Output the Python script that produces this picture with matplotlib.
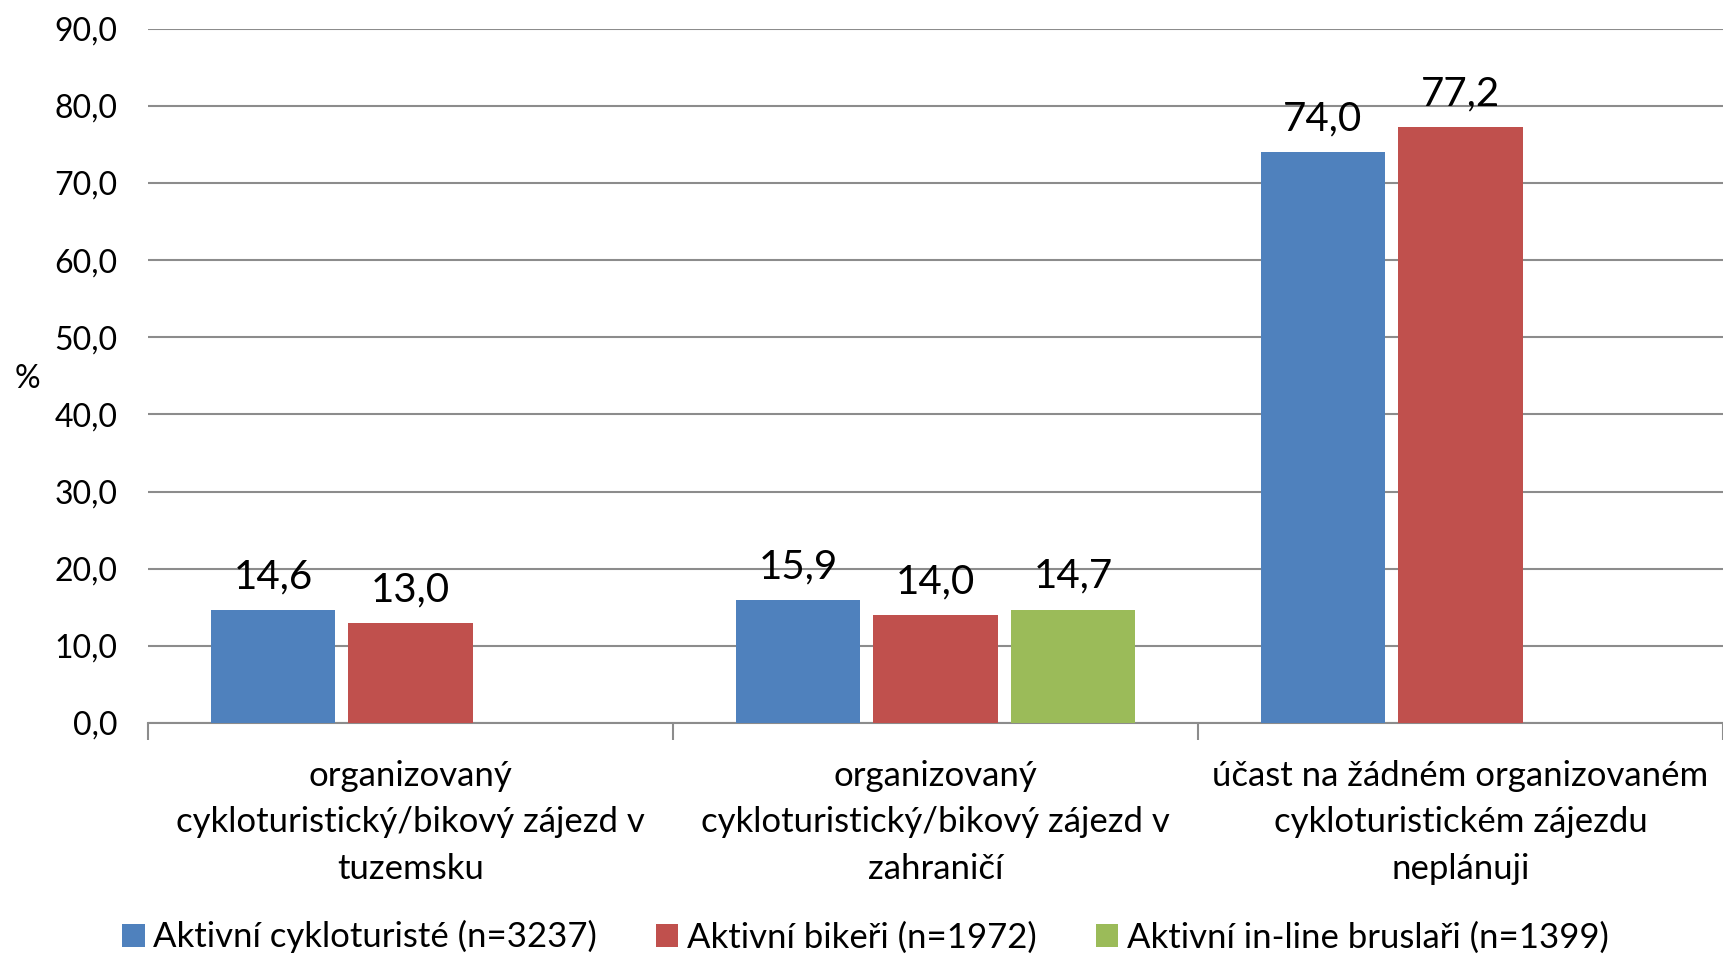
import matplotlib.pyplot as plt
from matplotlib.patches import Patch
import numpy as np

plt.rcParams['font.family'] = ['Lato', 'DejaVu Sans']

categories = [
    'organizovaný\ncykloturistický/bikový zájezd v\ntuzemsku',
    'organizovaný\ncykloturistický/bikový zájezd v\nzahraničí',
    'účast na žádném organizovaném\ncykloturistickém zájezdu\nneplánuji',
]
series_names = ['Aktivní cykloturisté (n=3237)', 'Aktivní bikeři (n=1972)',
                'Aktivní in-line bruslaři (n=1399)']
cyklo = [14.6, 15.9, 74.0]
bikeri = [13.0, 14.0, 77.2]
bruslari = [None, 14.7, None]
colors = ['#4F81BD', '#C0504D', '#9BBB59']
yticks = [0, 10, 20, 30, 40, 50, 60, 70, 80, 90]

fig = plt.figure(figsize=(17.24, 9.57), dpi=100)
ax = fig.add_axes([0.0858, 0.2445, 0.9136, 0.7255])

x = np.arange(len(categories))
width = 0.237
step = 0.262
for i, (vals, col) in enumerate(zip([cyklo, bikeri, bruslari], colors)):
    for xi, v in zip(x, vals):
        if v is None:
            continue
        pos = xi + (i - 1) * step
        ax.bar(pos, v, width=width, color=col, zorder=3)
        ax.text(pos, v + 1.9, f'{v:.1f}'.replace('.', ','), ha='center', va='bottom',
                fontsize=29, color='black')

ax.set_xlim(-0.5, 2.5)
ax.set_ylim(0, 90)
ax.set_yticks(yticks)
ax.set_yticklabels([f'{t:.1f}'.replace('.', ',') for t in yticks], fontsize=23)
ax.tick_params(axis='y', length=0, pad=22)
ax.yaxis.grid(True, color='#8c8c8c', linewidth=1.5, zorder=0)

ax.set_xticks([-0.5, 0.5, 1.5, 2.5])
ax.set_xticklabels([])
ax.tick_params(axis='x', which='major', length=12, width=1.5, color='#8c8c8c')
ax.set_xticks(x, minor=True)
ax.set_xticklabels(categories, minor=True, fontsize=25, linespacing=1.56)
ax.tick_params(axis='x', which='minor', length=0, pad=26.5)

for s in ['left', 'right', 'top']:
    ax.spines[s].set_visible(False)
ax.spines['bottom'].set_color('#8c8c8c')
ax.spines['bottom'].set_linewidth(1.5)

fig.text(0.0157, 0.604, '%', fontsize=23, ha='center', va='center')

handles = [Patch(facecolor=c) for c in colors]
fig.legend(handles, series_names, loc='center', bbox_to_anchor=(0.502, 0.021),
           ncol=3, frameon=False, fontsize=25, handlelength=0.64, handleheight=0.64,
           handletextpad=0.25, columnspacing=1.7, borderpad=0)

fig.savefig('out.png', dpi=100)
